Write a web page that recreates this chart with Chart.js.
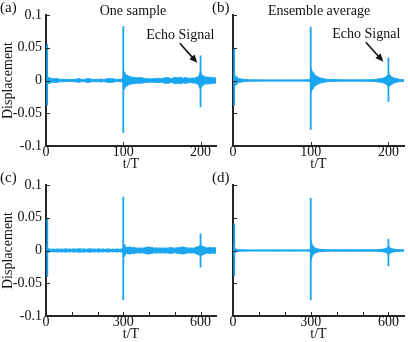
<!DOCTYPE html>
<html>
<head>
<meta charset="utf-8">
<script src="https://cdn.jsdelivr.net/npm/chart.js@4.4.1/dist/chart.umd.min.js"></script>
<style>
  html, body { margin: 0; padding: 0; background: #fff; }
  body { width: 408px; height: 342px; position: relative; overflow: hidden; }
  canvas { position: absolute; }
</style>
</head>
<body>
<canvas id="ca" width="220" height="173" style="left:0;top:0"></canvas>
<canvas id="cb" width="203" height="173" style="left:205px;top:0"></canvas>
<canvas id="cc" width="220" height="173" style="left:0;top:170px"></canvas>
<canvas id="cd" width="203" height="173" style="left:205px;top:170px"></canvas>
<script>
const BLUE = '#1aa6ef';
const AX = '#262626';
const FONT = 'Liberation Serif';

// y ticks shared by all panels
const yTicks = [-0.1, -0.05, 0, 0.05, 0.1];

// (a) one sample, t/T 0..220 -- half width of the noise band
const tA = [
  0.5, 1, 2, 3, 4, 5, 6, 8, 10, 12,
  14, 16, 18, 21, 24, 27, 30, 33, 36, 39,
  41, 43, 45, 47, 49, 51, 53, 55, 57, 59,
  62, 65, 68, 71, 74, 77, 79, 81, 83, 85,
  87, 89, 92, 95, 98, 99.5, 100.5, 101, 102, 103,
  104, 105, 106, 108, 110, 112, 114, 116, 118, 120,
  122, 124, 126, 128, 130, 132, 134, 136, 138, 140,
  142, 144, 146, 148, 150, 152, 154, 156, 158, 160,
  162, 164, 166, 168, 170, 172, 174, 176, 178, 180,
  182, 184, 186, 188, 190, 192, 194, 196, 197, 198,
  199, 199.5, 200.5, 201, 202, 203, 204, 206, 208, 210,
  212, 214, 216, 218, 220
];
const ampA = [
  0.007, 0.006, 0.005, 0.005, 0.0045, 0.0035, 0.0035, 0.0025, 0.003, 0.0025,
  0.003, 0.0025, 0.0016, 0.002, 0.0016, 0.0018, 0.0014, 0.0018, 0.0016, 0.002,
  0.0025, 0.0028, 0.002, 0.0016, 0.0018, 0.002, 0.0028, 0.003, 0.0025, 0.0018,
  0.0016, 0.002, 0.0016, 0.0024, 0.0016, 0.002, 0.0028, 0.003, 0.0025, 0.003,
  0.0025, 0.002, 0.0016, 0.0018, 0.002, 0.0035, 0.015, 0.013, 0.011, 0.01,
  0.009, 0.008, 0.007, 0.006, 0.0055, 0.005, 0.0048, 0.0045, 0.004, 0.0045,
  0.004, 0.0045, 0.0036, 0.0032, 0.003, 0.0025, 0.0028, 0.0024, 0.0026, 0.003,
  0.0026, 0.003, 0.0035, 0.003, 0.0028, 0.0035, 0.0045, 0.004, 0.0045, 0.0035,
  0.003, 0.0035, 0.0045, 0.005, 0.004, 0.0045, 0.005, 0.004, 0.0035, 0.0045,
  0.004, 0.0035, 0.003, 0.0035, 0.004, 0.0035, 0.0045, 0.0055, 0.0065, 0.008,
  0.011, 0.013, 0.012, 0.01, 0.008, 0.007, 0.0065, 0.0055, 0.005, 0.0055,
  0.0045, 0.005, 0.004, 0.0045, 0.0035
];
const spikeTA = [1.5, 100, 200];
const spikeHiA = [0.056, 0.083, 0.038];
const spikeLoA = [-0.038, -0.080, -0.041];

// (b) ensemble average, t/T 0..220
const tB = [
  0.5, 1, 2, 3, 4, 5, 6, 7, 8, 10,
  12, 14, 16, 20, 25, 30, 40, 50, 60, 70,
  80, 90, 95, 98, 99.5, 100.5, 101, 102, 103, 104,
  105, 106, 108, 110, 112, 114, 116, 118, 120, 123,
  126, 130, 135, 140, 150, 160, 170, 180, 184, 188,
  191, 194, 196, 198, 199.5, 200.5, 202, 204, 206, 208,
  211, 214, 217, 220
];
const ampB = [
  0.012, 0.011, 0.009, 0.007, 0.006, 0.005, 0.004, 0.0035, 0.003, 0.0025,
  0.002, 0.0018, 0.0015, 0.0012, 0.001, 0.001, 0.0009, 0.0009, 0.0009, 0.0009,
  0.0009, 0.0009, 0.001, 0.0012, 0.003, 0.018, 0.016, 0.014, 0.012, 0.01,
  0.009, 0.008, 0.0065, 0.005, 0.004, 0.0035, 0.003, 0.0025, 0.002, 0.0017,
  0.0015, 0.0013, 0.0012, 0.001, 0.001, 0.001, 0.001, 0.0012, 0.0018, 0.0025,
  0.003, 0.004, 0.005, 0.007, 0.009, 0.01, 0.008, 0.006, 0.0045, 0.0035,
  0.0025, 0.0018, 0.0014, 0.0012
];
const spikeTB = [1.5, 100, 200];
const spikeHiB = [0.048, 0.082, 0.035];
const spikeLoB = [-0.038, -0.075, -0.033];

// (c) one sample, t/T 0..660
const tC = [
  1, 3, 6, 10, 15, 20, 28, 36, 44, 52,
  60, 68, 76, 84, 92, 100, 108, 116, 124, 132,
  140, 148, 156, 164, 172, 180, 188, 196, 204, 212,
  220, 228, 236, 244, 252, 260, 268, 276, 284, 292,
  297, 299, 301, 303, 306, 310, 315, 320, 326, 332,
  340, 348, 356, 364, 372, 380, 388, 396, 404, 412,
  420, 428, 436, 444, 452, 460, 468, 476, 484, 492,
  500, 508, 516, 524, 532, 540, 548, 556, 564, 572,
  580, 586, 592, 596, 599, 601, 604, 608, 614, 620,
  628, 636, 644, 652, 660
];
const ampC = [
  0.006, 0.0045, 0.0035, 0.0028, 0.0024, 0.0018, 0.0022, 0.0018, 0.0024, 0.002,
  0.0024, 0.0018, 0.0026, 0.002, 0.0024, 0.0018, 0.0026, 0.002, 0.0024, 0.0026,
  0.002, 0.0026, 0.0018, 0.0024, 0.0026, 0.002, 0.0024, 0.0018, 0.0026, 0.002,
  0.0024, 0.0018, 0.0022, 0.0024, 0.0018, 0.0022, 0.0018, 0.0024, 0.0018, 0.0022,
  0.0026, 0.0045, 0.011, 0.009, 0.007, 0.0055, 0.0045, 0.005, 0.0055, 0.0045,
  0.005, 0.004, 0.0035, 0.004, 0.0035, 0.004, 0.0045, 0.0055, 0.005, 0.0045,
  0.0035, 0.004, 0.0035, 0.004, 0.0035, 0.004, 0.0035, 0.004, 0.0045, 0.004,
  0.0035, 0.004, 0.0045, 0.005, 0.0055, 0.0045, 0.004, 0.0035, 0.004, 0.0035,
  0.0045, 0.0055, 0.0065, 0.0075, 0.009, 0.009, 0.0075, 0.0065, 0.0055, 0.0045,
  0.004, 0.0045, 0.004, 0.0045, 0.0035
];
const spikeTC = [5, 300, 600];
const spikeHiC = [0.05, 0.082, 0.026];
const spikeLoC = [-0.04, -0.076, -0.026];

// (d) ensemble average, t/T 0..660
const tD = [
  1, 3, 6, 10, 15, 20, 30, 40, 60, 100,
  150, 200, 250, 285, 295, 299, 301, 303, 306, 310,
  315, 320, 326, 334, 345, 360, 380, 420, 480, 540,
  560, 575, 585, 592, 597, 599, 601, 604, 609, 616,
  625, 635, 645, 660
];
const ampD = [
  0.01, 0.006, 0.004, 0.0025, 0.0018, 0.0014, 0.0011, 0.001, 0.0009, 0.0009,
  0.0009, 0.0009, 0.0009, 0.0009, 0.0011, 0.002, 0.015, 0.012, 0.009, 0.006,
  0.0045, 0.0035, 0.0025, 0.002, 0.0015, 0.0012, 0.001, 0.001, 0.001, 0.0011,
  0.0013, 0.0018, 0.0025, 0.0035, 0.005, 0.007, 0.007, 0.005, 0.0035, 0.0025,
  0.0018, 0.0014, 0.0012, 0.0011
];
const spikeTD = [5, 300, 600];
const spikeHiD = [0.041, 0.08, 0.018];
const spikeLoD = [-0.039, -0.076, -0.024];

// where the "Echo Signal" arrows point (t/T, displacement)
const echoA = [195.8, 0.027];
const echoB = [193.4, 0.0287];

const deco = {
  id: 'deco',
  afterDraw(chart, args, o) {
    const c = chart.ctx, a = chart.chartArea;
    const sx = chart.scales.x, sy = chart.scales.y;
    c.save();
    // inward tick marks, matlab style
    c.strokeStyle = AX;
    c.lineWidth = 1;
    c.beginPath();
    sx.ticks.forEach(t => {
      const p = Math.round(sx.getPixelForValue(t.value)) + 0.5;
      c.moveTo(p, a.bottom);
      c.lineTo(p, a.bottom - 4);
    });
    sy.ticks.forEach(t => {
      const p = Math.round(sy.getPixelForValue(t.value)) + 0.5;
      c.moveTo(a.left, p);
      c.lineTo(a.left + 4, p);
    });
    c.stroke();

    c.fillStyle = '#111';
    c.textBaseline = 'middle';
    c.font = `15px "${FONT}"`;
    c.textAlign = 'left';
    c.fillText(o.letter, o.lx, 8);
    if (o.title) {
      c.font = `14px "${FONT}"`;
      c.textAlign = 'center';
      c.fillText(o.title, o.tx, 11);
    }
    if (o.echo) {
      const x = sx.getPixelForValue(o.echo[0]);
      const y = sy.getPixelForValue(o.echo[1]);
      c.font = `14px "${FONT}"`;
      c.textAlign = 'center';
      c.fillText('Echo Signal', x - 17, y - 27.5);
      const x0 = x - 17.5, y0 = y - 19.5;
      const ang = Math.atan2(y - y0, x - x0);
      c.strokeStyle = '#111';
      c.lineWidth = 1.6;
      c.beginPath();
      c.moveTo(x0, y0);
      c.lineTo(x - 5 * Math.cos(ang), y - 5 * Math.sin(ang));
      c.stroke();
      c.beginPath();
      c.moveTo(x, y);
      c.lineTo(x - 8 * Math.cos(ang) + 3.5 * Math.sin(ang), y - 8 * Math.sin(ang) - 3.5 * Math.cos(ang));
      c.lineTo(x - 8 * Math.cos(ang) - 3.5 * Math.sin(ang), y - 8 * Math.sin(ang) + 3.5 * Math.cos(ang));
      c.closePath();
      c.fill();
    }
    c.restore();
  }
};

function panel(id, cfg) {
  const up = cfg.t.map((x, i) => ({ x, y: cfg.amp[i] }));
  const lo = cfg.t.map((x, i) => ({ x, y: -cfg.amp[i] }));
  const datasets = [
    { data: up, borderColor: BLUE, borderWidth: 1, pointRadius: 0, fill: false },
    { data: lo, borderColor: BLUE, borderWidth: 1, pointRadius: 0, fill: '-1', backgroundColor: BLUE }
  ];
  cfg.spT.forEach((x, i) => {
    datasets.push({
      data: [{ x, y: cfg.spHi[i] }, { x, y: cfg.spLo[i] }],
      borderColor: BLUE, borderWidth: 1.8, pointRadius: 0, fill: false
    });
  });
  const txt = { family: FONT, size: 14 };
  new Chart(document.getElementById(id), {
    type: 'line',
    data: { datasets },
    options: {
      responsive: false,
      animation: false,
      events: [],
      layout: { padding: { top: 15, right: 4, left: 0, bottom: 0 } },
      plugins: {
        legend: { display: false },
        tooltip: { enabled: false },
        deco: { letter: cfg.letter, lx: cfg.lx, title: cfg.title, tx: cfg.tx, echo: cfg.echo }
      },
      scales: {
        x: {
          type: 'linear', min: 0, max: cfg.xMax,
          grid: { display: false, drawTicks: false },
          border: { display: true, color: AX, width: 2 },
          ticks: {
            stepSize: 100, includeBounds: false, autoSkip: false, maxRotation: 0,
            padding: -2, color: '#111', font: txt,
            callback: v => cfg.xLabels.includes(v) ? String(v) : ''
          },
          title: { display: true, text: 't/T', color: '#111', font: txt, padding: 0 },
          afterFit: s => { s.height = 27; }
        },
        y: {
          type: 'linear', min: -0.1, max: 0.1,
          grid: { display: false, drawTicks: false },
          border: { display: true, color: AX, width: 2 },
          afterBuildTicks: s => { s.ticks = yTicks.map(v => ({ value: v })); },
          ticks: {
            display: cfg.showY, padding: 4, color: '#111', font: txt,
            callback: v => String(Math.round(v * 100) / 100)
          },
          title: { display: cfg.showY, text: 'Displacement', color: '#111', font: txt, padding: 0 },
          afterFit: s => { s.width = cfg.yW; }
        }
      }
    },
    plugins: [deco]
  });
}

panel('ca', { t: tA, amp: ampA, spT: spikeTA, spHi: spikeHiA, spLo: spikeLoA,
  xMax: 220, xLabels: [0, 100, 200], showY: true, yW: 46,
  letter: '(a)', lx: 0, title: 'One sample', tx: 133, echo: echoA });
panel('cb', { t: tB, amp: ampB, spT: spikeTB, spHi: spikeHiB, spLo: spikeLoB,
  xMax: 220, xLabels: [0, 100, 200], showY: false, yW: 28,
  letter: '(b)', lx: 7, title: 'Ensemble average', tx: 114, echo: echoB });
panel('cc', { t: tC, amp: ampC, spT: spikeTC, spHi: spikeHiC, spLo: spikeLoC,
  xMax: 660, xLabels: [0, 300, 600], showY: true, yW: 46,
  letter: '(c)', lx: 0 });
panel('cd', { t: tD, amp: ampD, spT: spikeTD, spHi: spikeHiD, spLo: spikeLoD,
  xMax: 660, xLabels: [0, 300, 600], showY: false, yW: 28,
  letter: '(d)', lx: 7 });
</script>
</body>
</html>
